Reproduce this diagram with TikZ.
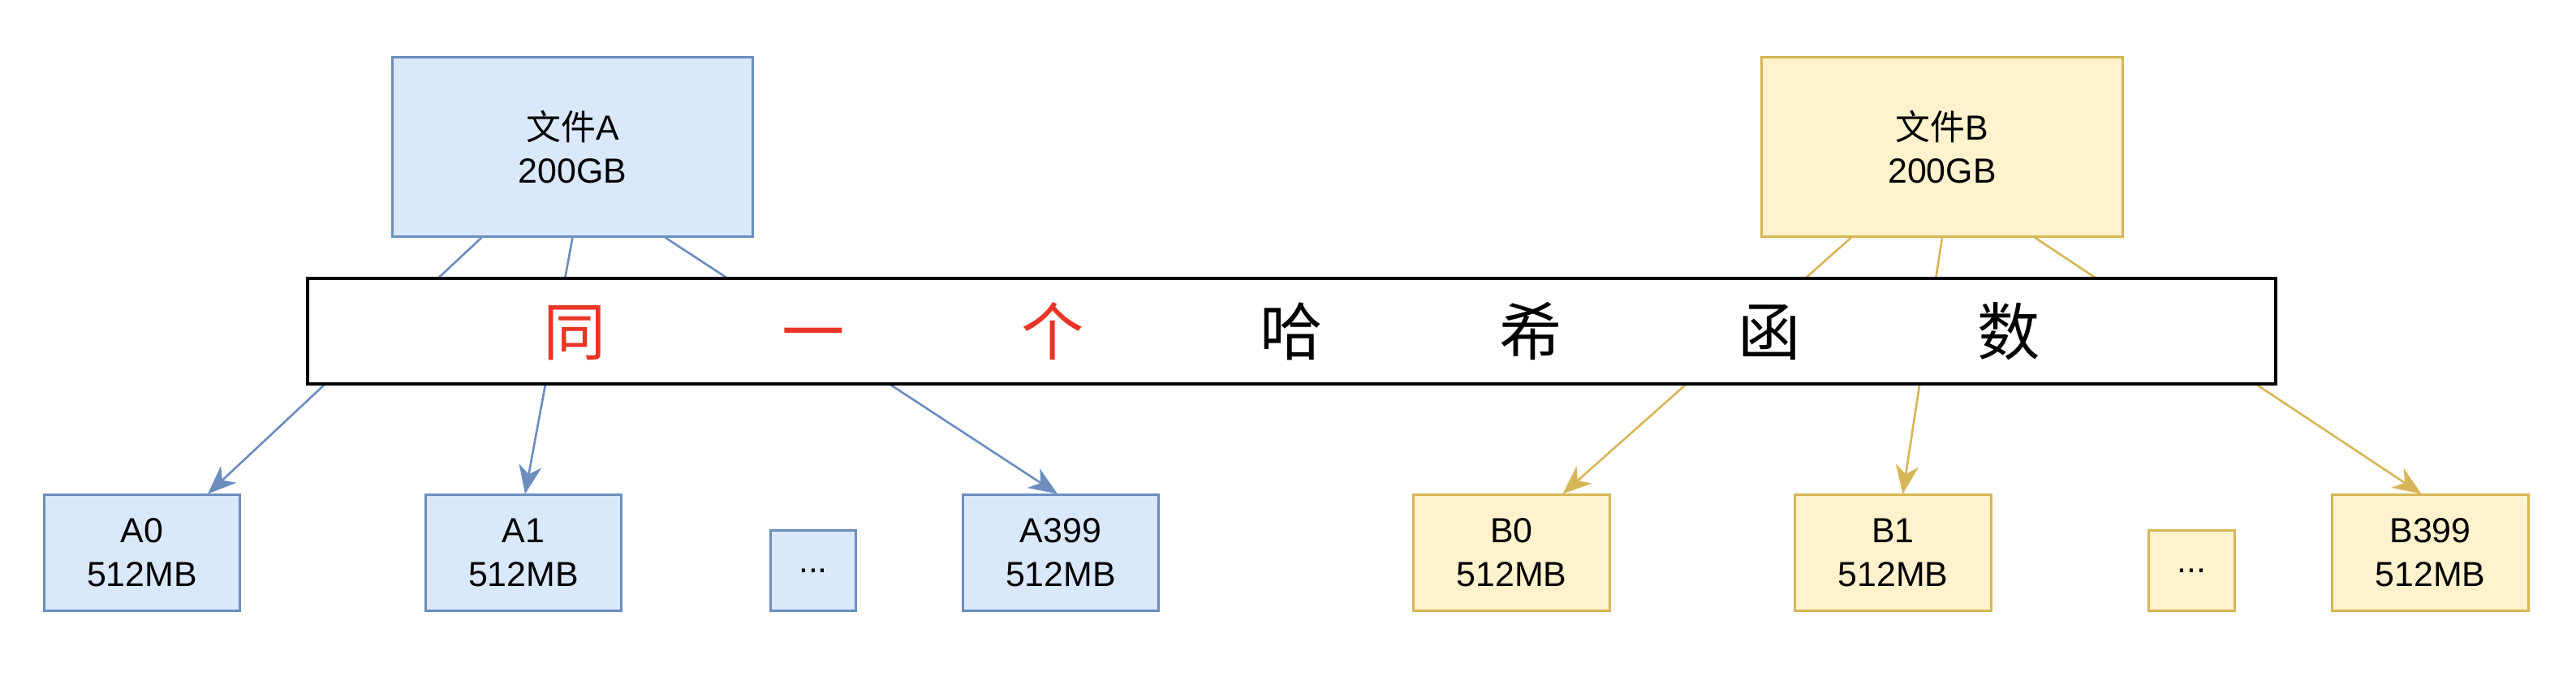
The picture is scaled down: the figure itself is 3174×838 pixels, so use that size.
\documentclass[tikz,border=0pt]{standalone}
\usepackage{fontspec}
\setmainfont{Liberation Sans}
\newfontfamily\cjk{Noto Sans CJK SC}
\usetikzlibrary{arrows.meta,calc}

\definecolor{blueFill}{HTML}{DAE8FC}
\definecolor{blueLine}{HTML}{6C8EBF}
\definecolor{yellowFill}{HTML}{FFF2CC}
\definecolor{yellowLine}{HTML}{D6B656}
\definecolor{hashRed}{RGB}{234,53,38}

\newcommand{\hgap}{\hspace{2.17cm}}

\tikzset{
	box/.style={draw,line width=0.85pt,align=center,inner sep=0pt,
		font=\fontsize{12.2}{15.3}\selectfont},
	bluebox/.style={box,draw=blueLine,fill=blueFill},
	yellowbox/.style={box,draw=yellowLine,fill=yellowFill},
	hashbar/.style={draw,line width=1.15pt,fill=white,inner sep=0pt,
		minimum width=24.23cm,minimum height=1.3cm,
		font=\cjk\fontsize{22}{26}\selectfont},
	split/.style={-{Stealth[length=10pt,width=8pt,inset=3pt]},line width=0.75pt},
}

\begin{document}
\begin{tikzpicture}[x=0.01cm,y=-0.01cm]
	
	\useasboundingbox (0,0) rectangle (3174,838);
	
	% files
	\node[bluebox,minimum width=4.43cm,minimum height=2.2cm] (fileA) at (705.5,181) {{\cjk 文件}A\\200GB};
	\node[yellowbox,minimum width=4.45cm,minimum height=2.2cm] (fileB) at (2393,181) {{\cjk 文件}B\\200GB};
	
	% parts of A
	\node[bluebox,minimum width=2.4cm,minimum height=1.42cm] (A0) at (175,681) {A0\\512MB};
	\node[bluebox,minimum width=2.4cm,minimum height=1.42cm] (A1) at (645,681) {A1\\512MB};
	\node[bluebox,minimum width=1.04cm,minimum height=0.98cm] (Adots) at (1002,703) {...};
	\node[bluebox,minimum width=2.4cm,minimum height=1.42cm] (A399) at (1307,681) {A399\\512MB};
	
	% parts of B
	\node[yellowbox,minimum width=2.41cm,minimum height=1.42cm] (B0) at (1862.5,681) {B0\\512MB};
	\node[yellowbox,minimum width=2.41cm,minimum height=1.42cm] (B1) at (2332.5,681) {B1\\512MB};
	\node[yellowbox,minimum width=1.05cm,minimum height=0.98cm] (Bdots) at (2700.5,703) {...};
	\node[yellowbox,minimum width=2.41cm,minimum height=1.42cm] (B399) at (2994.5,681) {B399\\512MB};
	
	\draw[split,blueLine] ($(fileA.south)+(-112,0)$) -- ($(A0.north)+(81,0)$);
	\draw[split,blueLine] (fileA.south) -- ($(A1.north)+(2,0)$);
	\draw[split,blueLine] ($(fileA.south)+(114,0)$) -- ($(A399.north)+(-4,0)$);
	
	\draw[split,yellowLine] ($(fileB.south)+(-112,0)$) -- ($(B0.north)+(63,0)$);
	\draw[split,yellowLine] (fileB.south) -- ($(B1.north)+(12,0)$);
	\draw[split,yellowLine] ($(fileB.south)+(114,0)$) -- ($(B399.north)+(-11,0)$);
	
	% the bar lies over the lines
	\node[hashbar] (hash) at (1591.5,408) {\textcolor{hashRed}{同\hgap 一\hgap 个}\hgap 哈\hgap 希\hgap 函\hgap 数};
	
\end{tikzpicture}
\end{document}
